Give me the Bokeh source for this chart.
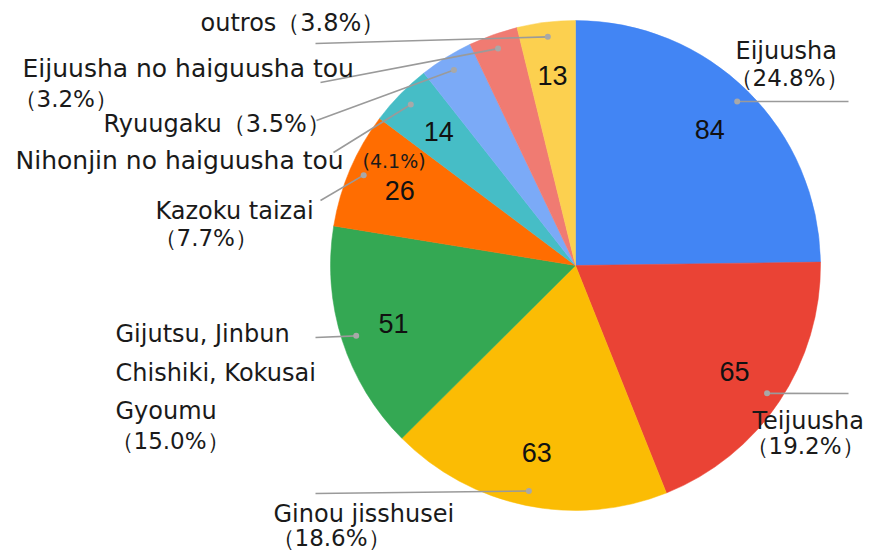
import math
from bokeh.plotting import figure
from bokeh.models import Range1d, ColumnDataSource
from bokeh.embed import file_html
from bokeh.resources import INLINE
from bokeh.core.properties import value

# ---- data ----
categories = ["Eijuusha", "Teijuusha", "Ginou jisshusei",
              "Gijutsu, Jinbun Chishiki, Kokusai Gyoumu", "Kazoku taizai",
              "Nihonjin no haiguusha tou", "Ryuugaku",
              "Eijuusha no haiguusha tou", "outros"]
values = [84, 65, 63, 51, 26, 14, 12, 11, 13]
percent_labels = ["24.8%", "19.2%", "18.6%", "15.0%", "7.7%", "4.1%", "3.5%", "3.2%", "3.8%"]
show_value = [True, True, True, True, True, True, False, False, True]
colors = ["#4285F4", "#EA4335", "#FBBC04", "#34A853", "#FF6D01",
          "#46BDC6", "#7BAAF7", "#F07B72", "#FCD04F"]

# label text lines per slice (text, page-x left, page-y middle, font size)
label_lines = [
    [("Eijuusha", 735, 50, "24px"), ("（24.8%）", 729, 77, "23px")],
    [("Teijuusha", 752, 420, "24px"), ("（19.2%）", 745, 445, "23px")],
    [("Ginou jisshusei", 273, 513, "24px"), ("（18.6%）", 271, 537, "23px")],
    [("Gijutsu, Jinbun", 115, 333, "24px"), ("Chishiki, Kokusai", 115, 372, "24px"),
     ("Gyoumu", 115, 410, "24px"), ("（15.0%）", 110, 440, "23px")],
    [("Kazoku taizai", 155, 210, "24px"), ("（7.7%）", 153, 237, "23px")],
    [("Nihonjin no haiguusha tou", 15, 160, "25px"), ("(4.1%)", 362, 160, "19px")],
    [("Ryuugaku（3.5%）", 103, 123, "24px")],
    [("Eijuusha no haiguusha tou", 22, 68, "25px"), ("（3.2%）", 13, 98, "23px")],
    [("outros（3.8%）", 200, 22, "24px")],
]
# leader line end on the label side (page coords)
leader_ends = [(848, 101), (848, 393), (315, 493), (315, 337), (320, 200),
               (333, 152), (316, 120), (320, 82), (315, 43)]

# ---- layout ----
W, H = 880, 552
def px(x):
    return x
def py(y):
    return H - y

cx, cy = px(575), py(265)
R = 245

total = sum(values)
starts, ends, mids = [], [], []
acc = 0.0
for v in values:
    a0 = math.pi / 2 - 2 * math.pi * acc / total
    acc += v
    a1 = math.pi / 2 - 2 * math.pi * acc / total
    starts.append(a1)
    ends.append(a0)
    mids.append((a0 + a1) / 2)

p = figure(width=W, height=H, output_backend="svg", toolbar_location=None,
           x_range=Range1d(0, W), y_range=Range1d(0, H), min_border=0)
p.axis.visible = False
p.grid.visible = False
p.outline_line_color = None
p.background_fill_color = "white"

src = ColumnDataSource(dict(start=starts, end=ends, color=colors,
                            cat=categories, val=values))
p.wedge(x=cx, y=cy, radius=R, start_angle="start", end_angle="end",
        fill_color="color", line_color="color", line_width=0.5, source=src)

# value labels
vx, vy, vt = [], [], []
for m, v, s in zip(mids, values, show_value):
    if s:
        vx.append(cx + 0.78 * R * math.cos(m))
        vy.append(cy + 0.78 * R * math.sin(m))
        vt.append(str(v))
p.text(x=vx, y=vy, text=vt, text_align="center", text_baseline="middle",
       text_font=value("Liberation Sans"), text_font_size="27px",
       text_color="#111111")

# leader lines and dots
lx0, ly0, lx1, ly1 = [], [], [], []
for m, (ex, ey) in zip(mids, leader_ends):
    lx0.append(cx + 0.94 * R * math.cos(m))
    ly0.append(cy + 0.94 * R * math.sin(m))
    lx1.append(px(ex))
    ly1.append(py(ey))
p.segment(x0=lx0, y0=ly0, x1=lx1, y1=ly1, line_color="#9a9a9a", line_width=1.6)
p.scatter(x=lx0, y=ly0, size=6, fill_color="#a8a8a8", line_color=None)

# category labels
tx, ty, tt, ts = [], [], [], []
for lines in label_lines:
    for t, x, y, s in lines:
        tx.append(px(x)); ty.append(py(y)); tt.append(t); ts.append(s)
p.text(x="x", y="y", text="t", text_font_size="s",
       source=ColumnDataSource(dict(x=tx, y=ty, t=tt, s=ts)),
       text_align="left", text_baseline="middle",
       text_font=value("DejaVu Sans"), text_color="#1a1a1a")

open("out.html", "w").write(file_html(p, INLINE))
